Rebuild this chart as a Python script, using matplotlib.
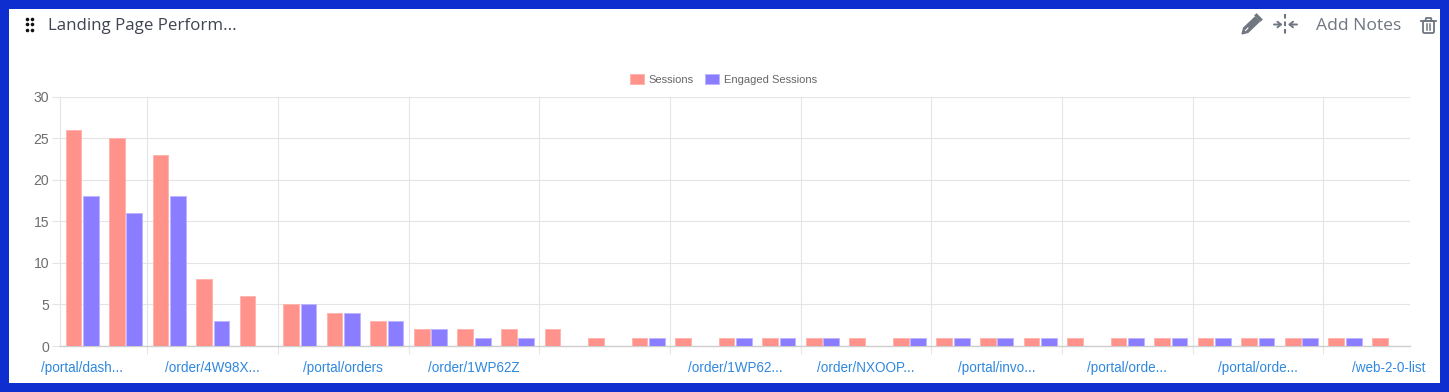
import matplotlib
matplotlib.use('Agg')
import matplotlib.pyplot as plt
from matplotlib.patches import Rectangle, FancyBboxPatch, Polygon

W, H = 1449, 392

# DATA
sessions = [26, 25, 23, 8, 6, 5, 4, 3, 2, 2, 2, 2, 1, 1, 1, 1, 1, 1, 1, 1, 1, 1, 1, 1, 1, 1, 1, 1, 1, 1, 1]
engaged = [18, 16, 18, 3, 0, 5, 4, 3, 2, 1, 1, 0, 0, 1, 0, 1, 1, 1, 0, 1, 1, 1, 1, 0, 1, 1, 1, 1, 1, 1, 0]
tick_groups = [0, 3, 6, 9, 12, 15, 18, 21, 24, 27, 30]
tick_labels = ['/portal/dash...', '/order/4W98X...', '/portal/orders', '/order/1WP62Z', '',
               '/order/1WP62...', '/order/NXOOP...', '/portal/invo...', '/portal/orde...',
               '/portal/orde...', '/web-2-0-list']
y_ticks = [0, 5, 10, 15, 20, 25, 30]

RED, RED_EDGE = '#FF928A', '#FFB4AE'
BLUE, BLUE_EDGE = '#8A7DFF', '#BDB5FF'
GRID = '#E4E4E4'
GREY = '#6F7680'


def px(size):
    return size*0.72


fig = plt.figure(figsize=(W/100, H/100), dpi=100, facecolor='#0F2ECF')

# white card and a pixel space overlay for the header
bg = fig.add_axes([0, 0, 1, 1])
bg.set_xlim(0, W)
bg.set_ylim(H, 0)
bg.axis('off')
bg.add_patch(Rectangle((9, 9), 1431, 374, fc='white', ec='none'))

# drag handle
for dx in (26.5, 31.5):
    for dy in (18.5, 24, 30):
        bg.plot(dx, dy, 'o', ms=2.6, color='#111111', mew=0)
bg.text(48, 26, 'Landing Page Perform...', fontsize=px(16.9), color='#3F4450',
        family='Open Sans', va='center')

# pencil
bg.add_patch(Polygon([(1242, 34), (1243.5, 28), (1255, 17), (1259.5, 21.5), (1248, 32.5)],
                     closed=True, fc=GREY, ec=GREY, lw=0.8))
bg.plot([1245.5, 1248], [30.5, 28], color='white', lw=0.8)
bg.plot([1256.5, 1260.5], [15.5, 19.5], color=GREY, lw=2.4)
# collapse icon
bg.plot([1285, 1285], [14, 35], color=GREY, lw=1.5, ls=(0, (2.2, 1.4)))
bg.annotate('', xy=(1282.5, 24.5), xytext=(1274, 24.5),
            arrowprops=dict(arrowstyle='->,head_width=0.2,head_length=0.25', color=GREY, lw=1.4, shrinkA=0, shrinkB=0))
bg.annotate('', xy=(1288, 24.5), xytext=(1297, 24.5),
            arrowprops=dict(arrowstyle='->,head_width=0.2,head_length=0.25', color=GREY, lw=1.4, shrinkA=0, shrinkB=0))
bg.text(1316, 26, 'Add Notes', fontsize=px(17.5), color=GREY, family='Open Sans', va='center')
# trash can
bg.add_patch(FancyBboxPatch((1423, 21), 11, 12, boxstyle='round,pad=0,rounding_size=1.5',
                            fc='none', ec=GREY, lw=1.3))
bg.plot([1421, 1436], [20.5, 20.5], color=GREY, lw=1.3)
bg.plot([1425.5, 1426, 1431, 1431.5], [20.5, 18, 18, 20.5], color=GREY, lw=1.3)
bg.plot([1427, 1427], [24, 30], color=GREY, lw=1.1)
bg.plot([1430, 1430], [24, 30], color=GREY, lw=1.1)

# CHART
left, right, top, bottom = 60.3, 1410.3, 96.6, 346
ax = fig.add_axes([left/W, 1-bottom/H, (right-left)/W, (bottom-top)/H])
ax.patch.set_alpha(0)
centers = [i+0.5 for i in range(len(sessions))]
bar_w = 0.36
gap = 0.04
ax.bar([c-bar_w/2-gap/2 for c in centers], sessions, bar_w, color=RED, edgecolor=RED_EDGE,
       linewidth=0.7, label='Sessions', zorder=3)
ax.bar([c+bar_w/2+gap/2 for c in centers], engaged, bar_w, color=BLUE, edgecolor=BLUE_EDGE,
       linewidth=0.7, label='Engaged Sessions', zorder=3)

ax.set_xlim(0, len(sessions))
ax.set_ylim(0, 30)
ax.set_yticks(y_ticks)
ax.set_xticks([g+0.5 for g in tick_groups])
ax.set_xticklabels(tick_labels)
ax.set_xticks([g-1 for g in tick_groups[1:]], minor=True)
ax.tick_params(axis='x', which='major', length=0, pad=10.5, labelsize=px(13.5), labelcolor='#2F88DE')
ax.tick_params(axis='x', which='minor', length=8.5/1.39, width=0.8, color=GRID)
ax.tick_params(axis='y', length=6, width=0.8, color=GRID, labelsize=px(14), labelcolor='#6E6E6E', pad=2)
for lab in ax.get_xticklabels() + ax.get_yticklabels():
    lab.set_family('Liberation Sans')
ax.grid(True, axis='y', color=GRID, lw=0.8, zorder=0)
ax.grid(True, axis='x', which='minor', color=GRID, lw=0.8, zorder=0)
ax.set_axisbelow(True)
for s in ('top', 'right'):
    ax.spines[s].set_visible(False)
ax.spines['left'].set_color(GRID)
ax.spines['left'].set_linewidth(0.8)
ax.spines['bottom'].set_color('#CFCFCF')
ax.spines['bottom'].set_linewidth(1.0)

leg = fig.legend(loc='center', bbox_to_anchor=(723.5/W, 1-79.5/H), ncol=2, frameon=False,
                 prop={'family': 'Liberation Sans', 'size': px(11.1)}, handlelength=1.26, handleheight=1.0,
                 handletextpad=0.45, columnspacing=1.0, labelcolor='#666666')

fig.savefig('out.png', dpi=100, facecolor=fig.get_facecolor())
